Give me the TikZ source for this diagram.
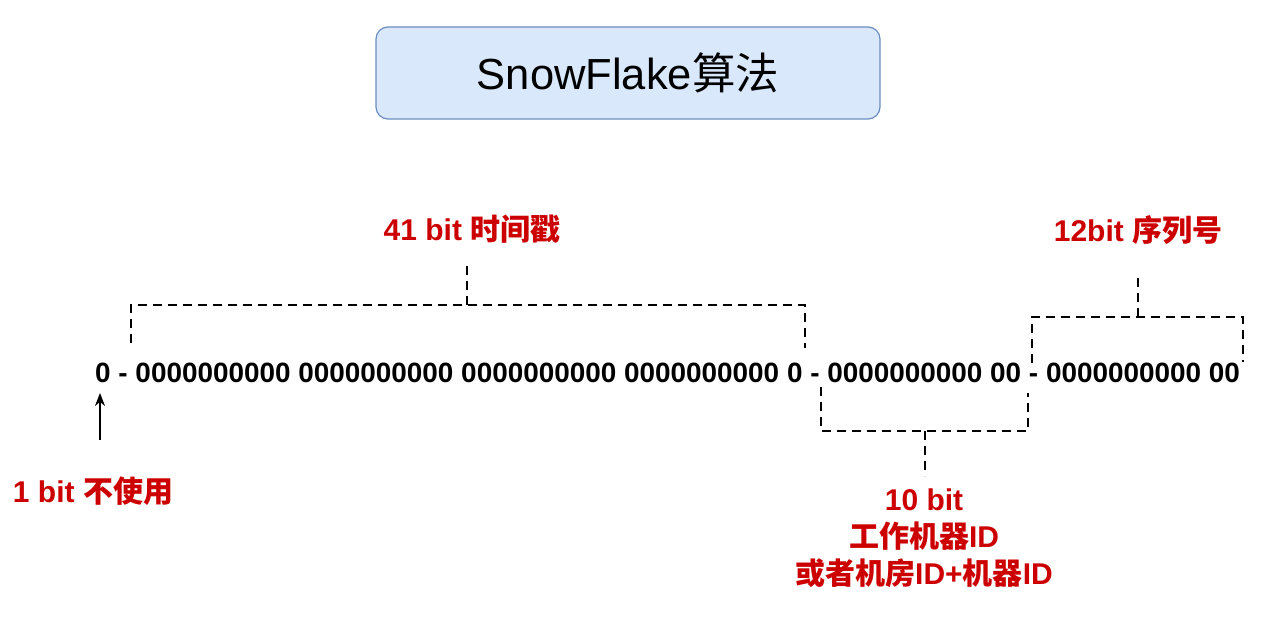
\documentclass[tikz,border=0pt]{standalone}
\usepackage{fontspec}
\setmainfont{Liberation Sans}
\newfontfamily\cjk{Noto Sans CJK SC}
\usetikzlibrary{arrows.meta}
\definecolor{lblred}{HTML}{CC0000}
\definecolor{boxfill}{HTML}{DAE8FC}
\definecolor{boxline}{HTML}{6C8EBF}
\begin{document}
\begin{tikzpicture}[x=1pt,y=-1pt,
  br/.style={dash pattern=on 9pt off 6pt, line width=2.5pt},
  lbl/.style={text=lblred, font=\fontsize{30}{37}\selectfont\bfseries, inner sep=0pt, align=center}]
\useasboundingbox (0,0) rectangle (1285,636);
\node[draw=boxline, fill=boxfill, rounded corners=12pt, minimum width=504pt, minimum height=92pt, line width=1.2pt,
  font=\fontsize{43.5}{48}\selectfont] (title) at (628,73) {SnowFlake{\cjk 算法}};
\node[font=\fontsize{27.9}{30}\selectfont\bfseries, inner sep=0pt, anchor=west] (bits) at (95,373)
  {0 - 0000000000 0000000000 0000000000 0000000000 0 - 0000000000 00 - 0000000000 00};
% labels
\node[lbl] (l41) at (472,229) {41 bit {\cjk 时间戳}};
\node[lbl] (l12) at (1138,230) {12bit {\cjk 序列号}};
\node[lbl] (l1) at (93,491) {1 bit {\cjk 不使用}};
\node[lbl] (l10) at (924,538) {10 bit\\{\cjk 工作机器}ID\\{\cjk 或者机房}ID+{\cjk 机器}ID};
% 41 bit bracket
\coordinate (a1) at (131,343);
\coordinate (a2) at (131,305);
\coordinate (a3) at (805,305);
\coordinate (a4) at (805,348);
\coordinate (a5) at (467,305);
\coordinate (a6) at (467,262);
\draw[br] (a1) -- (a2) -- (a3) -- (a4);
\draw[br] (a5) -- (a6);
% 10 bit bracket
\coordinate (b1) at (821,387);
\coordinate (b2) at (821,431);
\coordinate (b3) at (1028,431);
\coordinate (b4) at (1028,393);
\coordinate (b5) at (925,431);
\coordinate (b6) at (925,476);
\draw[br] (b1) -- (b2) -- (b3) -- (b4);
\draw[br] (b5) -- (b6);
% 12 bit bracket
\coordinate (c1) at (1032,363);
\coordinate (c2) at (1032,317);
\coordinate (c3) at (1243,317);
\coordinate (c4) at (1243,362);
\coordinate (c5) at (1138,317);
\coordinate (c6) at (1138,274);
\draw[br] (c1) -- (c2) -- (c3) -- (c4);
\draw[br] (c5) -- (c6);
% arrow
\coordinate (d1) at (100,440);
\coordinate (d2) at (100,393);
\draw[-{Stealth[length=13pt,width=10pt]}, line width=1.5pt] (d1) -- (d2);
\end{tikzpicture}
\end{document}
